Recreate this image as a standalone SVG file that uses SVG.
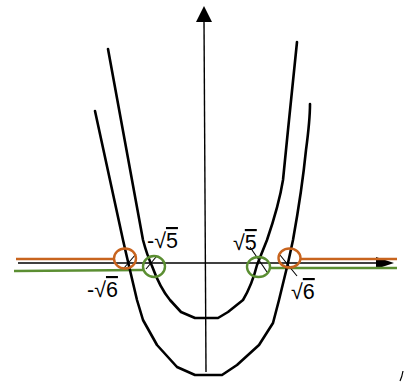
<svg xmlns="http://www.w3.org/2000/svg" width="410" height="383" viewBox="0 0 410 383">
<style>
.curve{fill:none;stroke:#000;stroke-width:2.6;stroke-linejoin:round;stroke-linecap:round}
.axis{fill:none;stroke:#000;stroke-width:1.4}
.mark{fill:none;stroke:#000;stroke-width:1.1}
.or{fill:none;stroke:#C8641E;stroke-width:2.6}
.gr{fill:none;stroke:#5B8E32;stroke-width:2.6}
.lbl{font-family:"Liberation Sans","DejaVu Sans",sans-serif;font-size:21.5px;fill:#000}
</style>
<rect width="410" height="383" fill="#fff"/>
<g id="connectors">
<line class="axis" x1="204" y1="20" x2="206" y2="372"/>
<polygon points="204,6 196,22 212,22" fill="#000"/>
<line class="axis" x1="18" y1="263" x2="382" y2="263"/>
<polygon points="376,257 394,263 376,269" fill="#000"/>
<line class="or" x1="16" y1="259" x2="115" y2="259"/>
<line class="or" x1="300" y1="259" x2="397" y2="259"/>
<line class="gr" x1="14" y1="271" x2="143" y2="270"/>
<line class="gr" x1="270" y1="268" x2="397" y2="268"/>
</g>
<g id="curve-sqrt5">
<path class="curve" d="M108,49 L121,120 L143,240 Q147,255 152,266 Q160,288 170,300 L181,312 L195,318 L218,318 L228,312 L243,300 Q252,285 257,265 L267,240 Q279,205 283,180 L288,130 L297,42"/>
</g>
<g id="curve-sqrt6">
<path class="curve" d="M95,111 L123,240 L129,266 L137,300 L143,320 L157,345 L177,367 L195,375 L222,375 L237,365 L259,345 L273,323 L279,300 L288,263 L293,240 Q302,190 306,150 Q310,120 310,104"/>
</g>
<g id="marks">
<line class="mark" x1="124" y1="268" x2="136" y2="254"/>
<line class="mark" x1="146" y1="269" x2="156" y2="257"/>
<line class="mark" x1="250" y1="247" x2="267" y2="272"/>
<line class="mark" x1="280" y1="255" x2="297" y2="276"/>
</g>
<g id="circles">
<ellipse cx="125" cy="258.5" rx="11" ry="10" fill="none" stroke="#C8641E" stroke-width="2.4"/>
<ellipse cx="154" cy="266.5" rx="11" ry="10.5" fill="none" stroke="#5B8E32" stroke-width="2.4"/>
<ellipse cx="258.5" cy="267" rx="11.5" ry="10" fill="none" stroke="#5B8E32" stroke-width="2.4"/>
<ellipse cx="289.5" cy="258" rx="11" ry="9.5" fill="none" stroke="#C8641E" stroke-width="2.4"/>
</g>
<g id="labels">
<text class="lbl" x="147" y="248">-√<tspan text-decoration="overline">5</tspan></text>
<text class="lbl" x="87" y="297">-√<tspan text-decoration="overline">6</tspan></text>
<text class="lbl" x="233" y="250">√<tspan text-decoration="overline">5</tspan></text>
<text class="lbl" x="291" y="299">√<tspan text-decoration="overline">6</tspan></text>
</g>
<path d="M403,371 Q402,377 400,381" fill="none" stroke="#000" stroke-width="1.2"/>
</svg>
